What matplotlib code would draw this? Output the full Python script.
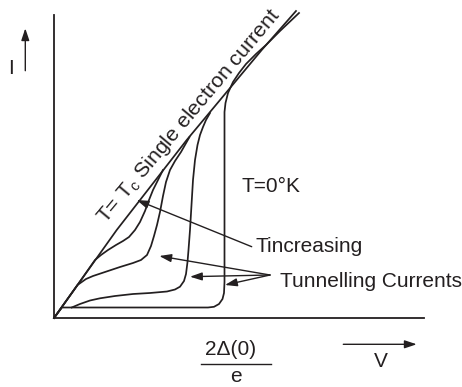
import matplotlib
matplotlib.use("Agg")
import matplotlib.pyplot as plt

plt.rcParams['font.family'] = ['Liberation Sans', 'DejaVu Sans']
plt.rcParams['mathtext.fontset'] = 'custom'
plt.rcParams['mathtext.rm'] = 'Liberation Sans'
plt.rcParams['mathtext.it'] = 'Liberation Sans:italic'

INK = '#231f20'

# Normal-state (T = Tc) single electron current
v_tc = [0, 6.27, 13.27, 20.77, 24.2]
i_tc = [0, 8.8, 17.8, 26.8, 30.7]

# Tunnelling currents for decreasing temperature (T1 > T2 > T3 > 0 K)
v_t1 = [0, 2.35, 4.1, 4.7, 5.4, 6.2, 6.9, 7.5, 8.1, 8.6, 9.1, 9.5, 9.9, 10.3, 10.9]
i_t1 = [0, 3.3, 5.8, 6.3, 6.8, 7.3, 7.7, 8.1, 8.8, 9.6, 10.7, 11.8, 12.8, 13.6, 14.8]

v_t2 = [0, 2.35, 3.2, 3.9, 5.1, 6.6, 7.9, 8.7, 9.3, 9.7, 10.0, 10.3, 10.6,
        10.9, 11.2, 11.6, 12.1, 12.7, 13.55]
i_t2 = [0, 3.3, 3.9, 4.2, 4.6, 5.1, 5.5, 5.8, 6.3, 7.2, 8.2, 9.3, 10.6,
        12.2, 13.6, 14.8, 15.7, 16.6, 18.1]

v_t3 = [1.77, 2.6, 3.6, 4.6, 6.1, 7.9, 9.6, 11.3, 12.1, 12.6, 13.0, 13.2,
        13.35, 13.45, 13.6, 13.75, 13.9, 14.1, 14.35, 14.6, 14.9, 15.2, 15.6]
i_t3 = [1.05, 1.4, 1.75, 1.97, 2.2, 2.4, 2.5, 2.65, 2.85, 3.13, 3.7, 4.4,
        5.6, 6.8, 8.8, 11.3, 13.8, 15.8, 17.3, 18.3, 19.1, 19.8, 20.5]

v_t0 = [0, 0.8, 15.4, 16.0, 16.5, 16.85, 17.0, 17.05, 17.05, 17.15, 17.4,
        17.9, 18.5, 19.2, 20.2, 21.2, 22.6, 24.5]
i_t0 = [0, 1.05, 1.05, 1.12, 1.4, 1.9, 2.5, 3.6, 20.6, 21.5, 22.5, 23.6,
        24.5, 25.4, 26.4, 27.3, 28.7, 30.5]

W, H = 462, 387
fig = plt.figure(figsize=(W / 100, H / 100), dpi=100)
ax = fig.add_axes([54 / W, (H - 318) / H, (424 - 54) / W, (318 - 15) / H])
ax.set_xlim(0, 37)
ax.set_ylim(0, 30.3)
for side in ('top', 'right'):
    ax.spines[side].set_visible(False)
for side in ('left', 'bottom'):
    ax.spines[side].set_color(INK)
    ax.spines[side].set_linewidth(1.3)
ax.set_xticks([])
ax.set_yticks([])
ax.patch.set_visible(False)

for v, i in [(v_tc, i_tc), (v_t1, i_t1), (v_t2, i_t2), (v_t3, i_t3), (v_t0, i_t0)]:
    ax.plot(v, i, color=INK, lw=1.25, clip_on=False, solid_joinstyle='round')

FS = 15
ax.text(5.15, 9.35, r'T= T$_{\mathrm{c}}$ Single electron current', rotation=50,
        rotation_mode='anchor', ha='left', va='baseline', fontsize=15.3, color=INK)
ax.text(18.77, 12.63, 'T=0°K', ha='left', va='baseline', fontsize=FS, color=INK)
ax.text(20.1, 6.63, 'Tincreasing', ha='left', va='baseline', fontsize=FS, color=INK)
ax.text(22.6, 3.07, 'Tunnelling Currents', ha='left', va='baseline', fontsize=FS,
        color=INK, clip_on=False)

arrow = dict(arrowstyle='-|>,head_length=0.6,head_width=0.2', lw=1.0, color=INK,
             mutation_scale=12, shrinkA=0, shrinkB=0)
ax.annotate('', xy=(8.27, 11.8), xytext=(19.77, 7.13), arrowprops=arrow)
for tip in [(10.53, 6.2), (13.6, 4.13), (17.1, 3.3)]:
    ax.annotate('', xy=tip, xytext=(21.6, 4.3), arrowprops=arrow)

# Axis labels drawn outside the axes
fig.text(11.3 / W, (H - 73.5) / H, 'I', ha='center', va='baseline', fontsize=FS, color=INK)
ax.annotate('', xy=(25.3, H - 28.3), xytext=(25.3, H - 70.7), xycoords='figure pixels',
            textcoords='figure pixels', arrowprops=arrow, annotation_clip=False)
fig.text(380.8 / W, (H - 366.7) / H, 'V', ha='center', va='baseline', fontsize=FS, color=INK)
ax.annotate('', xy=(416.7, H - 344.3), xytext=(343.3, H - 344.3), xycoords='figure pixels',
            textcoords='figure pixels', arrowprops=arrow, annotation_clip=False)

fig.text(230.8 / W, (H - 355) / H, '2Δ(0)', ha='center', va='baseline', fontsize=FS, color=INK)
fig.add_artist(plt.Line2D([200.7 / W, 270.7 / W], [(H - 364.3) / H, (H - 364.3) / H],
                          color=INK, lw=1.0, transform=fig.transFigure))
fig.text(235.8 / W, (H - 381.7) / H, 'e', ha='center', va='baseline', fontsize=FS, color=INK)

fig.savefig('out.png', dpi=100)
